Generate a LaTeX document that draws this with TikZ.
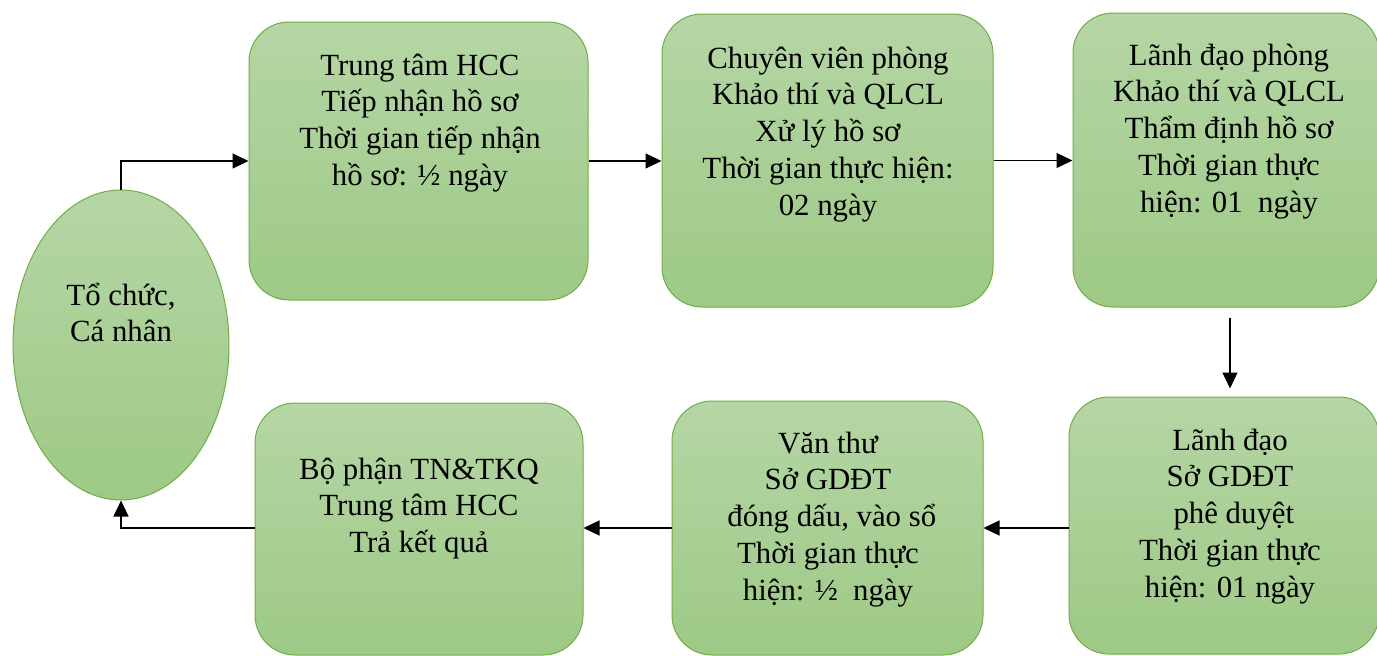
\documentclass[tikz,border=0pt]{standalone}
\usepackage{fontspec}
\setmainfont{Liberation Serif}
\usetikzlibrary{arrows.meta,shapes.geometric}
\definecolor{gtop}{RGB}{181,214,165}
\definecolor{gbot}{RGB}{158,201,134}
\definecolor{boxline}{RGB}{112,173,71}
\newcommand{\bxt}[1]{\vtop{\hsize=360pt\parskip=0pt\centering\lineskiplimit=-100pt\baselineskip=36.8pt\relax #1\par}}
\begin{document}
\begin{tikzpicture}[x=1pt,y=-1pt,
  stepbox/.style={draw=boxline, line width=1pt, rounded corners=40pt, top color=gtop, bottom color=gbot, inner sep=0pt},
  orgshape/.style={ellipse, draw=boxline, line width=1pt, top color=gtop, bottom color=gbot, inner sep=0pt, minimum width=216pt, minimum height=310pt},
  lbl/.style={anchor=base, inner sep=0pt, font=\fontsize{30.8}{36.8}\selectfont},
  conn/.style={draw=black, line width=1.2pt, -{Triangle[length=16pt,width=15pt]}}]
\useasboundingbox (0,0) rectangle (1377,656);
% shapes
\node[orgshape] (org) at (121,345) {};
\node[stepbox, minimum width=339pt, minimum height=278pt] (b1) at (418.5,161) {};
\node[stepbox, minimum width=331pt, minimum height=293pt] (b2) at (827.5,160.5) {};
\node[stepbox, minimum width=306pt, minimum height=294pt] (b3) at (1226,160) {};
\node[stepbox, minimum width=310pt, minimum height=257pt] (b4) at (1224,525.5) {};
\node[stepbox, minimum width=311pt, minimum height=254pt] (b5) at (827.5,528) {};
\node[stepbox, minimum width=328pt, minimum height=252pt] (b6) at (419,529) {};
% texts
\node[lbl] (t0) at (121,305) {\bxt{Tổ chức,\\Cá nhân}};
\node[lbl] (t1) at (420,75) {\bxt{Trung tâm HCC\\Tiếp nhận hồ sơ\\Thời gian tiếp nhận\\hồ sơ: ½ ngày}};
\node[lbl] (t2) at (828,68) {\bxt{Chuyên viên phòng\\Khảo thí và QLCL\\Xử lý hồ sơ\\Thời gian thực hiện:\\02 ngày}};
\node[lbl] (t3) at (1229,65) {\bxt{Lãnh đạo phòng\\Khảo thí và QLCL\\Thẩm định hồ sơ\\Thời gian thực\\hiện: 01\ \ ngày}};
\node[lbl] (t4) at (1230,450) {\bxt{Lãnh đạo\\Sở GDĐT\\\ phê duyệt\\Thời gian thực\\hiện: 01 ngày}};
\node[lbl] (t5) at (828,453) {\bxt{Văn thư\\Sở GDĐT\\\ đóng dấu, vào sổ\\Thời gian thực\\hiện: ½\ \ ngày}};
\node[lbl] (t6) at (419,479) {\bxt{Bộ phận TN\&TKQ\\Trung tâm HCC\\Trả kết quả}};
% connectors
\coordinate (ly) at (0,528);
\draw[conn] (org.north) |- (b1.west);
\draw[conn] (b1.east) -- (b1.east -| b2.west);
\draw[conn] (b2.east) -- (b2.east -| b3.west);
\draw[conn, shorten <=10pt, shorten >=8pt] ([xshift=4pt]b3.south) -- ([xshift=4pt]b3.south |- b4.north);
\draw[conn] (b4.west |- ly) -- (b5.east |- ly);
\draw[conn] (b5.west |- ly) -- (b6.east |- ly);
\draw[conn] (b6.west |- ly) -| (org.south);
\end{tikzpicture}
\end{document}
